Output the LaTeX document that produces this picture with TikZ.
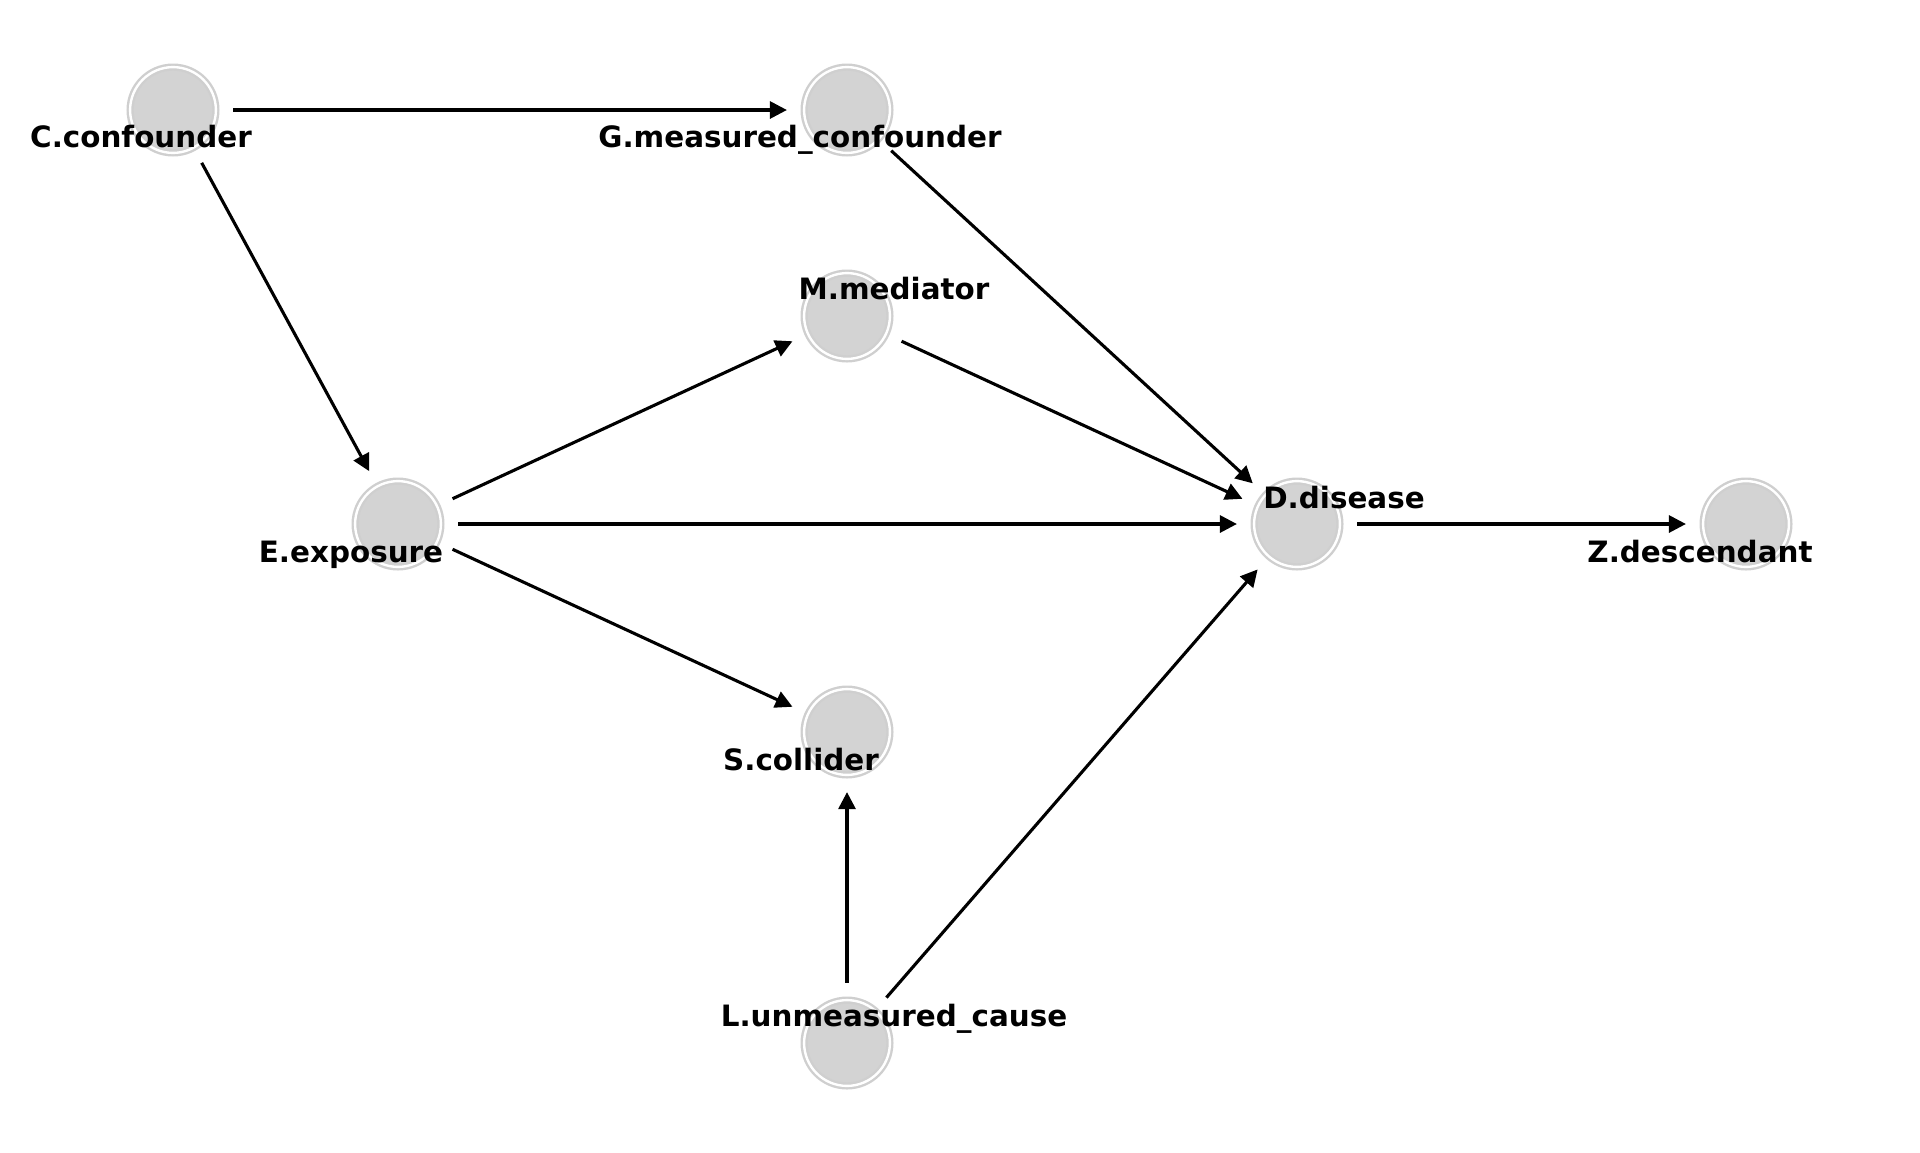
\documentclass[tikz,border=0pt]{standalone}
\usepackage{fontspec}
\setmainfont{DejaVu Sans}
\usetikzlibrary{arrows.meta}
\definecolor{nodegray}{HTML}{D3D3D3}
\definecolor{ringgray}{HTML}{CFCFCF}
\begin{document}
\begin{tikzpicture}[x=0.5pt,y=-0.5pt,
  dagnode/.style={circle, fill=nodegray, draw=ringgray, double=white,
    line width=1.2pt, double distance=1.2pt, minimum size=42.9pt,
    inner sep=0pt, outer sep=8.6pt},
  lbl/.style={anchor=base, font=\fontsize{14.7pt}{17pt}\selectfont\bfseries, text=black, inner sep=0pt},
  edge/.style={draw=black, line width=1.55pt, -{Triangle[length=8.5pt,width=8.5pt]}}]
\useasboundingbox (0,0) rectangle (1920,1152);
% nodes
\node[dagnode] (C) at (173,110) {};
\node[dagnode] (G) at (847,110) {};
\node[dagnode] (M) at (847,316) {};
\node[dagnode] (E) at (398,524) {};
\node[dagnode] (D) at (1297,524) {};
\node[dagnode] (Z) at (1746,524) {};
\node[dagnode] (S) at (847,732) {};
\node[dagnode] (L) at (847,1043) {};
% edges
\draw[edge] (C) -- (G);
\draw[edge] (C) -- (E);
\draw[edge] (G) -- (D);
\draw[edge] (M) -- (D);
\draw[edge] (E) -- (M);
\draw[edge] (E) -- (D);
\draw[edge] (E) -- (S);
\draw[edge] (D) -- (Z);
\draw[edge] (L) -- (S);
\draw[edge] (L) -- (D);
% labels
\node[lbl] (lC) at (141,147.5) {C.confounder};
\node[lbl] (lG) at (800,147.5) {G.measured\_confounder};
\node[lbl] (lM) at (894,299.5) {M.mediator};
\node[lbl] (lE) at (351,562) {E.exposure};
\node[lbl] (lD) at (1344,508) {D.disease};
\node[lbl] (lZ) at (1700,562) {Z.descendant};
\node[lbl] (lS) at (801,770) {S.collider};
\node[lbl] (lL) at (894,1026) {L.unmeasured\_cause};
\end{tikzpicture}
\end{document}
